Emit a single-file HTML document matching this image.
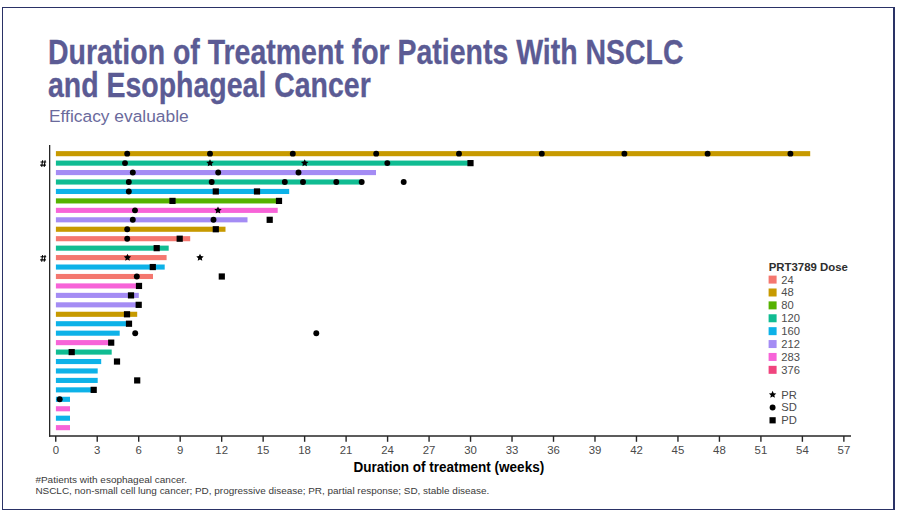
<!DOCTYPE html>
<html><head><meta charset="utf-8"><title>Duration of Treatment</title>
<style>
html,body{margin:0;padding:0;background:#fff;}
body{width:900px;height:514px;overflow:hidden;position:relative;font-family:"Liberation Sans",sans-serif;}
.frame{position:absolute;left:2px;top:7px;width:890px;height:501px;border-style:solid;border-color:#2a3266;border-width:1px 2px 1.5px 1px;box-sizing:content-box;}
.title{position:absolute;left:48.3px;top:35.9px;font-weight:bold;font-size:34.3px;line-height:33px;color:#5b5b94;white-space:nowrap;transform:scaleX(0.8300);transform-origin:0 0;-webkit-text-stroke:0.3px #5b5b94;}
.sub{position:absolute;left:48.6px;top:106.7px;font-size:16.7px;line-height:20px;color:#6a6a9c;white-space:nowrap;transform:scaleX(1.041);transform-origin:0 0;}
.foot{position:absolute;left:35px;top:474.5px;font-size:9.95px;line-height:10.6px;color:#3a3a3a;white-space:nowrap;}
svg{position:absolute;left:0;top:0;}
svg text{font-family:"Liberation Sans",sans-serif;}
</style></head><body>
<div class="frame"></div>
<div class="title">Duration of Treatment for Patients With NSCLC<br>and Esophageal Cancer</div>
<div class="sub">Efficacy evaluable</div>
<svg width="900" height="514" viewBox="0 0 900 514">
<g shape-rendering="geometricPrecision">
<rect x="55.9" y="151.12" width="754.3" height="5.1" fill="#C79A00"/>
<rect x="55.9" y="160.57" width="414.6" height="5.1" fill="#10BC92"/>
<rect x="55.9" y="170.02" width="320.1" height="5.1" fill="#A48CF4"/>
<rect x="55.9" y="179.46" width="305.8" height="5.1" fill="#10BC92"/>
<rect x="55.9" y="188.91" width="233.3" height="5.1" fill="#0DB2E8"/>
<rect x="55.9" y="198.36" width="223.1" height="5.1" fill="#55B200"/>
<rect x="55.9" y="207.81" width="221.8" height="5.1" fill="#F763D8"/>
<rect x="55.9" y="217.26" width="191.6" height="5.1" fill="#A48CF4"/>
<rect x="55.9" y="226.70" width="169.6" height="5.1" fill="#C79A00"/>
<rect x="55.9" y="236.15" width="134.3" height="5.1" fill="#F4776F"/>
<rect x="55.9" y="245.60" width="112.8" height="5.1" fill="#10BC92"/>
<rect x="55.9" y="255.05" width="110.7" height="5.1" fill="#F4776F"/>
<rect x="55.9" y="264.50" width="108.8" height="5.1" fill="#0DB2E8"/>
<rect x="55.9" y="273.94" width="97.1" height="5.1" fill="#F4776F"/>
<rect x="55.9" y="283.39" width="83.1" height="5.1" fill="#F763D8"/>
<rect x="55.9" y="292.84" width="82.9" height="5.1" fill="#A48CF4"/>
<rect x="55.9" y="302.29" width="82.1" height="5.1" fill="#A48CF4"/>
<rect x="55.9" y="311.74" width="81.3" height="5.1" fill="#C79A00"/>
<rect x="55.9" y="321.18" width="71.1" height="5.1" fill="#0DB2E8"/>
<rect x="55.9" y="330.63" width="63.8" height="5.1" fill="#0DB2E8"/>
<rect x="55.9" y="340.08" width="53.1" height="5.1" fill="#F763D8"/>
<rect x="55.9" y="349.53" width="55.8" height="5.1" fill="#10BC92"/>
<rect x="55.9" y="358.98" width="45.3" height="5.1" fill="#0DB2E8"/>
<rect x="55.9" y="368.42" width="41.8" height="5.1" fill="#0DB2E8"/>
<rect x="55.9" y="377.87" width="41.8" height="5.1" fill="#0DB2E8"/>
<rect x="55.9" y="387.32" width="40.1" height="5.1" fill="#0DB2E8"/>
<rect x="55.9" y="396.77" width="14.1" height="5.1" fill="#0DB2E8"/>
<rect x="55.9" y="406.22" width="14.1" height="5.1" fill="#F763D8"/>
<rect x="55.9" y="415.66" width="14.1" height="5.1" fill="#0DB2E8"/>
<rect x="55.9" y="425.11" width="14.1" height="5.1" fill="#F763D8"/>
</g>
<g fill="#000">
<circle cx="127.2" cy="153.67" r="2.95"/>
<circle cx="210.0" cy="153.67" r="2.95"/>
<circle cx="292.8" cy="153.67" r="2.95"/>
<circle cx="376.2" cy="153.67" r="2.95"/>
<circle cx="459.0" cy="153.67" r="2.95"/>
<circle cx="541.8" cy="153.67" r="2.95"/>
<circle cx="624.4" cy="153.67" r="2.95"/>
<circle cx="707.6" cy="153.67" r="2.95"/>
<circle cx="790.4" cy="153.67" r="2.95"/>
<circle cx="125.0" cy="163.12" r="2.95"/>
<polygon points="210.00,159.22 211.09,161.62 213.71,161.91 211.76,163.69 212.29,166.27 210.00,164.97 207.71,166.27 208.24,163.69 206.29,161.91 208.91,161.62"/>
<polygon points="304.70,159.22 305.79,161.62 308.41,161.91 306.46,163.69 306.99,166.27 304.70,164.97 302.41,166.27 302.94,163.69 300.99,161.91 303.61,161.62"/>
<circle cx="387.3" cy="163.12" r="2.95"/>
<rect x="467.4" y="160.02" width="6.2" height="6.2"/>
<circle cx="132.8" cy="172.57" r="2.95"/>
<circle cx="218.2" cy="172.57" r="2.95"/>
<circle cx="298.5" cy="172.57" r="2.95"/>
<circle cx="128.8" cy="182.01" r="2.95"/>
<circle cx="211.7" cy="182.01" r="2.95"/>
<circle cx="284.8" cy="182.01" r="2.95"/>
<circle cx="303.0" cy="182.01" r="2.95"/>
<circle cx="336.3" cy="182.01" r="2.95"/>
<circle cx="361.7" cy="182.01" r="2.95"/>
<circle cx="403.7" cy="182.01" r="2.95"/>
<circle cx="128.8" cy="191.46" r="2.95"/>
<rect x="212.7" y="188.36" width="6.2" height="6.2"/>
<rect x="253.9" y="188.36" width="6.2" height="6.2"/>
<rect x="169.4" y="197.81" width="6.2" height="6.2"/>
<rect x="275.9" y="197.81" width="6.2" height="6.2"/>
<circle cx="135.0" cy="210.36" r="2.95"/>
<polygon points="218.00,206.46 219.09,208.86 221.71,209.15 219.76,210.93 220.29,213.51 218.00,212.21 215.71,213.51 216.24,210.93 214.29,209.15 216.91,208.86"/>
<circle cx="132.8" cy="219.81" r="2.95"/>
<circle cx="213.5" cy="219.81" r="2.95"/>
<rect x="266.6" y="216.71" width="6.2" height="6.2"/>
<circle cx="127.2" cy="229.25" r="2.95"/>
<rect x="212.7" y="226.15" width="6.2" height="6.2"/>
<circle cx="127.2" cy="238.70" r="2.95"/>
<rect x="176.6" y="235.60" width="6.2" height="6.2"/>
<rect x="153.6" y="245.05" width="6.2" height="6.2"/>
<polygon points="127.50,253.70 128.59,256.10 131.21,256.39 129.26,258.17 129.79,260.75 127.50,259.45 125.21,260.75 125.74,258.17 123.79,256.39 126.41,256.10"/>
<polygon points="200.00,253.70 201.09,256.10 203.71,256.39 201.76,258.17 202.29,260.75 200.00,259.45 197.71,260.75 198.24,258.17 196.29,256.39 198.91,256.10"/>
<rect x="149.7" y="263.95" width="6.2" height="6.2"/>
<circle cx="136.8" cy="276.49" r="2.95"/>
<rect x="218.7" y="273.39" width="6.2" height="6.2"/>
<rect x="135.9" y="282.84" width="6.2" height="6.2"/>
<rect x="127.9" y="292.29" width="6.2" height="6.2"/>
<rect x="135.6" y="301.74" width="6.2" height="6.2"/>
<rect x="123.9" y="311.19" width="6.2" height="6.2"/>
<rect x="125.9" y="320.63" width="6.2" height="6.2"/>
<circle cx="135.2" cy="333.18" r="2.95"/>
<circle cx="316.3" cy="333.18" r="2.95"/>
<rect x="108.1" y="339.53" width="6.2" height="6.2"/>
<rect x="68.6" y="348.98" width="6.2" height="6.2"/>
<rect x="113.9" y="358.43" width="6.2" height="6.2"/>
<rect x="134.1" y="377.32" width="6.2" height="6.2"/>
<rect x="90.6" y="386.77" width="6.2" height="6.2"/>
<circle cx="59.7" cy="399.32" r="2.95"/>
</g>
<g stroke="#262626" stroke-width="1.4" fill="none">
<line x1="49.65" y1="145" x2="49.65" y2="436.7" stroke-width="1.3"/>
<line x1="49" y1="435.95" x2="851" y2="435.95" stroke-width="1.6"/>
<line x1="55.75" y1="436" x2="55.75" y2="441.8"/>
<line x1="97.23" y1="436" x2="97.23" y2="441.8"/>
<line x1="138.71" y1="436" x2="138.71" y2="441.8"/>
<line x1="180.19" y1="436" x2="180.19" y2="441.8"/>
<line x1="221.67" y1="436" x2="221.67" y2="441.8"/>
<line x1="263.15" y1="436" x2="263.15" y2="441.8"/>
<line x1="304.63" y1="436" x2="304.63" y2="441.8"/>
<line x1="346.11" y1="436" x2="346.11" y2="441.8"/>
<line x1="387.59" y1="436" x2="387.59" y2="441.8"/>
<line x1="429.07" y1="436" x2="429.07" y2="441.8"/>
<line x1="470.55" y1="436" x2="470.55" y2="441.8"/>
<line x1="512.03" y1="436" x2="512.03" y2="441.8"/>
<line x1="553.51" y1="436" x2="553.51" y2="441.8"/>
<line x1="594.99" y1="436" x2="594.99" y2="441.8"/>
<line x1="636.47" y1="436" x2="636.47" y2="441.8"/>
<line x1="677.95" y1="436" x2="677.95" y2="441.8"/>
<line x1="719.43" y1="436" x2="719.43" y2="441.8"/>
<line x1="760.91" y1="436" x2="760.91" y2="441.8"/>
<line x1="802.39" y1="436" x2="802.39" y2="441.8"/>
<line x1="843.87" y1="436" x2="843.87" y2="441.8"/>
</g>
<g font-size="11.4px" fill="#4a4a4a" text-anchor="middle">
<text x="55.8" y="453.8">0</text>
<text x="97.2" y="453.8">3</text>
<text x="138.7" y="453.8">6</text>
<text x="180.2" y="453.8">9</text>
<text x="221.7" y="453.8">12</text>
<text x="263.1" y="453.8">15</text>
<text x="304.6" y="453.8">18</text>
<text x="346.1" y="453.8">21</text>
<text x="387.6" y="453.8">24</text>
<text x="429.1" y="453.8">27</text>
<text x="470.5" y="453.8">30</text>
<text x="512.0" y="453.8">33</text>
<text x="553.5" y="453.8">36</text>
<text x="595.0" y="453.8">39</text>
<text x="636.5" y="453.8">42</text>
<text x="677.9" y="453.8">45</text>
<text x="719.4" y="453.8">48</text>
<text x="760.9" y="453.8">51</text>
<text x="802.4" y="453.8">54</text>
<text x="843.9" y="453.8">57</text>
</g>
<g stroke="#000" stroke-width="1.1" fill="none">
<path d="M40.5 162.00H46.2M40.2 165.10H45.9M42.6 160.30L41.7 166.90M45.1 160.30L44.2 166.90"/>
<path d="M40.5 256.80H46.2M40.2 259.90H45.9M42.6 255.10L41.7 261.70M45.1 255.10L44.2 261.70"/>
</g>
<text x="353.4" y="471.9" font-size="13.8px" font-weight="bold" fill="#000" textLength="190.8" lengthAdjust="spacingAndGlyphs">Duration of treatment (weeks)</text>
<text x="768.7" y="271.3" font-size="11.8px" font-weight="bold" fill="#2e2e2e" textLength="79.2" lengthAdjust="spacingAndGlyphs">PRT3789 Dose</text>
<g font-size="11.2px" fill="#4d4d4d">
<rect x="768.6" y="275.60" width="8" height="8" fill="#F4776F"/>
<text x="781.2" y="283.50">24</text>
<rect x="768.6" y="288.49" width="8" height="8" fill="#C79A00"/>
<text x="781.2" y="296.39">48</text>
<rect x="768.6" y="301.38" width="8" height="8" fill="#55B200"/>
<text x="781.2" y="309.28">80</text>
<rect x="768.6" y="314.27" width="8" height="8" fill="#10BC92"/>
<text x="781.2" y="322.17">120</text>
<rect x="768.6" y="327.16" width="8" height="8" fill="#0DB2E8"/>
<text x="781.2" y="335.06">160</text>
<rect x="768.6" y="340.05" width="8" height="8" fill="#A48CF4"/>
<text x="781.2" y="347.95">212</text>
<rect x="768.6" y="352.94" width="8" height="8" fill="#F763D8"/>
<text x="781.2" y="360.84">283</text>
<rect x="768.6" y="365.83" width="8" height="8" fill="#F0447E"/>
<text x="781.2" y="373.73">376</text>
</g>
<g font-size="11.2px" fill="#4a4a4a">
<polygon points="772.60,390.80 773.69,393.20 776.31,393.49 774.36,395.27 774.89,397.86 772.60,396.55 770.31,397.86 770.84,395.27 768.89,393.49 771.51,393.20" fill="#000"/>
<text x="781.3" y="398.60" class="lg">PR</text>
<circle cx="772.6" cy="407.50" r="2.95" fill="#000"/>
<text x="781.3" y="411.40" class="lg">SD</text>
<rect x="769.5" y="417.20" width="6.2" height="6.2" fill="#000"/>
<text x="781.3" y="424.20" class="lg">PD</text>
</g>
<g font-size="9.95px" fill="#3a3a3a">
<text x="35.4" y="483.4" textLength="151.6" lengthAdjust="spacingAndGlyphs">#Patients with esophageal cancer.</text>
<text x="35.4" y="494.2" textLength="454" lengthAdjust="spacingAndGlyphs">NSCLC, non-small cell lung cancer; PD, progressive disease; PR, partial response; SD, stable disease.</text>
</g>
</svg>

</body></html>
